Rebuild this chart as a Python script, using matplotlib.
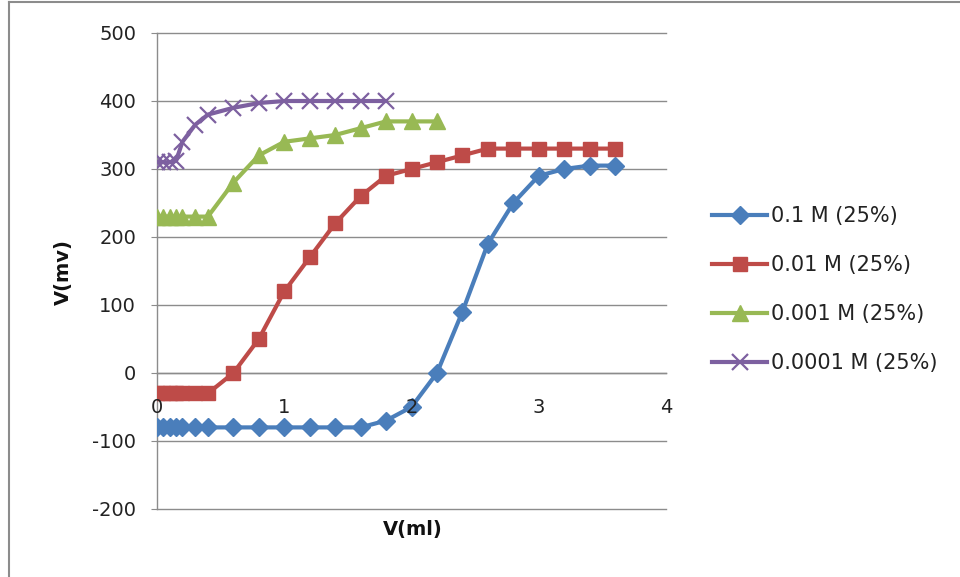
import matplotlib
matplotlib.use("Agg")
import matplotlib.pyplot as plt
from matplotlib.lines import Line2D

plt.rcParams['font.family'] = ['DejaVu Sans']
plt.rcParams['axes.unicode_minus'] = False

# titrant volume (ml) and measured potential (mV) for each concentration
vol = [0, 0.05, 0.1, 0.15, 0.2, 0.3, 0.4, 0.6, 0.8, 1.0, 1.2, 1.4, 1.6,
       1.8, 2.0, 2.2, 2.4, 2.6, 2.8, 3.0, 3.2, 3.4, 3.6]

mv_01 = [-80, -80, -80, -80, -80, -80, -80, -80, -80, -80, -80, -80, -80,
         -70, -50, 0, 90, 190, 250, 290, 300, 305, 305]
mv_001 = [-30, -30, -30, -30, -30, -30, -30, 0, 50, 120, 170, 220, 260,
          290, 300, 310, 320, 330, 330, 330, 330, 330, 330]
mv_0001 = [230, 230, 230, 230, 230, 230, 230, 280, 320, 340, 345, 350, 360,
           370, 370, 370]
mv_00001 = [310, 310, 310, 312, 340, 365, 380, 390, 397, 400, 400, 400, 400,
            400]

labels = ['0.1 M (25%)', '0.01 M (25%)', '0.001 M (25%)', '0.0001 M (25%)']

fig = plt.figure(figsize=(9.6, 5.77), dpi=100)
ax = fig.add_axes([157 / 960, 1 - 509 / 577, (666 - 157) / 960, (509 - 33) / 577])

lw = 3.0
ax.plot(vol[:len(mv_01)], mv_01, color='#4A7EBB', lw=lw, marker='D', ms=9,
        label=labels[0], zorder=3)
ax.plot(vol[:len(mv_001)], mv_001, color='#BE4B48', lw=lw, marker='s', ms=10,
        label=labels[1], zorder=3)
ax.plot(vol[:len(mv_0001)], mv_0001, color='#98B954', lw=lw, marker='^', ms=12,
        label=labels[2], zorder=3)
ax.plot(vol[:len(mv_00001)], mv_00001, color='#7D60A0', lw=lw, marker='x',
        ms=11, mew=1.6, label=labels[3], zorder=3)

ax.set_xlim(0, 4)
ax.set_ylim(-200, 500)
ax.set_yticks(range(-200, 501, 100))
ax.set_xticks([0, 1, 2, 3, 4])
# horizontal gridlines, drawn unclipped so the edge ones show in full
for yv in range(-200, 501, 100):
    ax.axhline(yv, color='#8C8C8C', lw=1, zorder=1, clip_on=False)

for s in ['top', 'right']:
    ax.spines[s].set_visible(False)
ax.spines['left'].set_color('#8C8C8C')
ax.spines['left'].set_linewidth(1)

ax.tick_params(axis='y', length=4, color='#8C8C8C', labelsize=14,
               labelcolor='#222222', pad=11)
# x axis crosses the vertical axis at zero; its labels sit over the curves
ax.spines['bottom'].set_position(('data', 0))
ax.spines['bottom'].set_color('#8C8C8C')
ax.spines['bottom'].set_linewidth(1)
ax.tick_params(axis='x', length=0, labelsize=14, labelcolor='#222222',
               pad=18)
ax.xaxis.set_zorder(4)

fig.text(413 / 960, 1 - 530 / 577, 'V(ml)', ha='center', va='center',
         fontsize=14, fontweight='bold', color='#111111')
fig.text(63 / 960, 1 - 272 / 577, 'V(mv)', ha='center', va='center',
         rotation=90, fontsize=14, fontweight='bold', color='#111111')

leg = fig.legend(loc='upper left', bbox_to_anchor=(712 / 960, 1 - 206 / 577),
                 frameon=False, fontsize=15, handlelength=2.65,
                 handletextpad=0.2, labelspacing=1.4, borderpad=0,
                 borderaxespad=0)
for t in leg.get_texts():
    t.set_color('#222222')

# chart-area border along the left and top edges
fig.add_artist(Line2D([9 / 960, 9 / 960], [0, 1 - 2 / 577],
                      transform=fig.transFigure, color='#8C8C8C', lw=1.5))
fig.add_artist(Line2D([9 / 960, 1], [1 - 2 / 577, 1 - 2 / 577],
                      transform=fig.transFigure, color='#8C8C8C', lw=1.5))

fig.savefig('out.png', dpi=100)
